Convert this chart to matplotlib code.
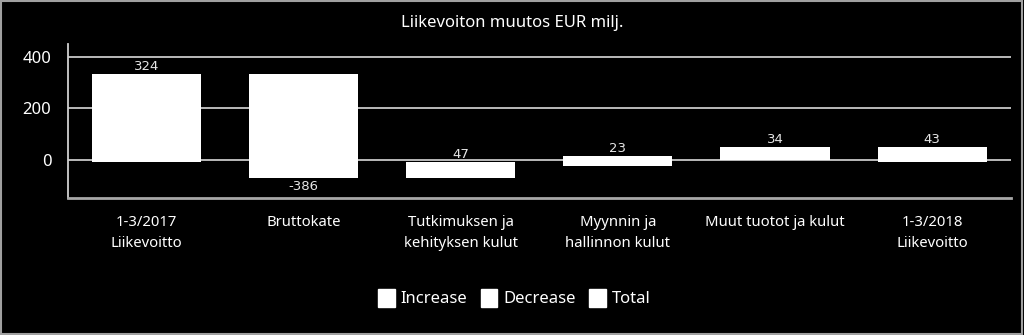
import numpy as np
import matplotlib
matplotlib.use('Agg')
import matplotlib.pyplot as plt
from matplotlib.patches import Patch, Rectangle

# data
categories = ['1-3/2017\nLiikevoitto', 'Bruttokate', 'Tutkimuksen ja\nkehityksen kulut',
              'Myynnin ja\nhallinnon kulut', 'Muut tuotot ja kulut', '1-3/2018\nLiikevoitto']
value_labels = ['324', '-386', '47', '23', '34', '43']
bar_low = [-8, -68, -71, -23, 0, -9]
bar_high = [333, 333, -6, 15, 50, 51]
label_above = [True, False, True, True, True, True]
legend_names = ['Increase', 'Decrease', 'Total']

plt.rcParams['font.family'] = ['Noto Sans', 'DejaVu Sans']

fig = plt.figure(figsize=(10.24, 3.35), dpi=100, facecolor='black')
ax = fig.add_axes([0.0664, 0.409, 0.9206, 0.460])
ax.set_facecolor('black')

x = np.arange(len(categories))
low = np.array(bar_low)
high = np.array(bar_high)
ax.bar(x, high - low, bottom=low, width=0.695, color='white', zorder=3)

for i in range(len(x)):
    if label_above[i]:
        ax.annotate(value_labels[i], (x[i], high[i]), xytext=(0, 0.5), textcoords='offset points',
                    ha='center', va='bottom', color='#e6e6e6', fontsize=9.5,
                    family='DejaVu Sans', zorder=4)
    else:
        ax.annotate(value_labels[i], (x[i], low[i]), xytext=(0, -1.5), textcoords='offset points',
                    ha='center', va='top', color='#e6e6e6', fontsize=9.5,
                    family='DejaVu Sans', zorder=4)

ax.set_xlim(-0.5, len(x) - 0.5)
ax.set_ylim(-147, 449)
ax.set_yticks([0, 200, 400])
ax.set_xticks(x)
ax.set_xticklabels(categories, linespacing=1.6)
ax.tick_params(axis='x', length=0, pad=12, colors='white', labelsize=10.7)
ax.tick_params(axis='y', length=0, pad=12, colors='white', labelsize=12)
ax.grid(axis='y', color='#c8c8c8', linewidth=1.3, zorder=1)
ax.set_axisbelow(True)

for s in ['top', 'right']:
    ax.spines[s].set_visible(False)
ax.spines['left'].set_color('#d0d0d0')
ax.spines['left'].set_linewidth(1.3)
ax.spines['bottom'].set_color('#a8a8a8')
ax.spines['bottom'].set_linewidth(2)

fig.text(0.5, 0.93, 'Liikevoiton muutos EUR milj.', ha='center', va='center',
         color='white', fontsize=12)

handles = [Patch(facecolor='white', edgecolor='white') for _ in legend_names]
leg = fig.legend(handles, legend_names, loc='center', bbox_to_anchor=(0.502, 0.11), ncol=3,
                 frameon=False, handlelength=1.0, handleheight=1.3, handletextpad=0.35,
                 columnspacing=0.8, fontsize=12)
for t in leg.get_texts():
    t.set_color('white')

fig.patches.append(Rectangle((0.001, 0.002), 0.997, 0.995, transform=fig.transFigure,
                             fill=False, edgecolor='#a0a0a0', linewidth=1.5))

fig.savefig('out.png', dpi=100, facecolor='black')
